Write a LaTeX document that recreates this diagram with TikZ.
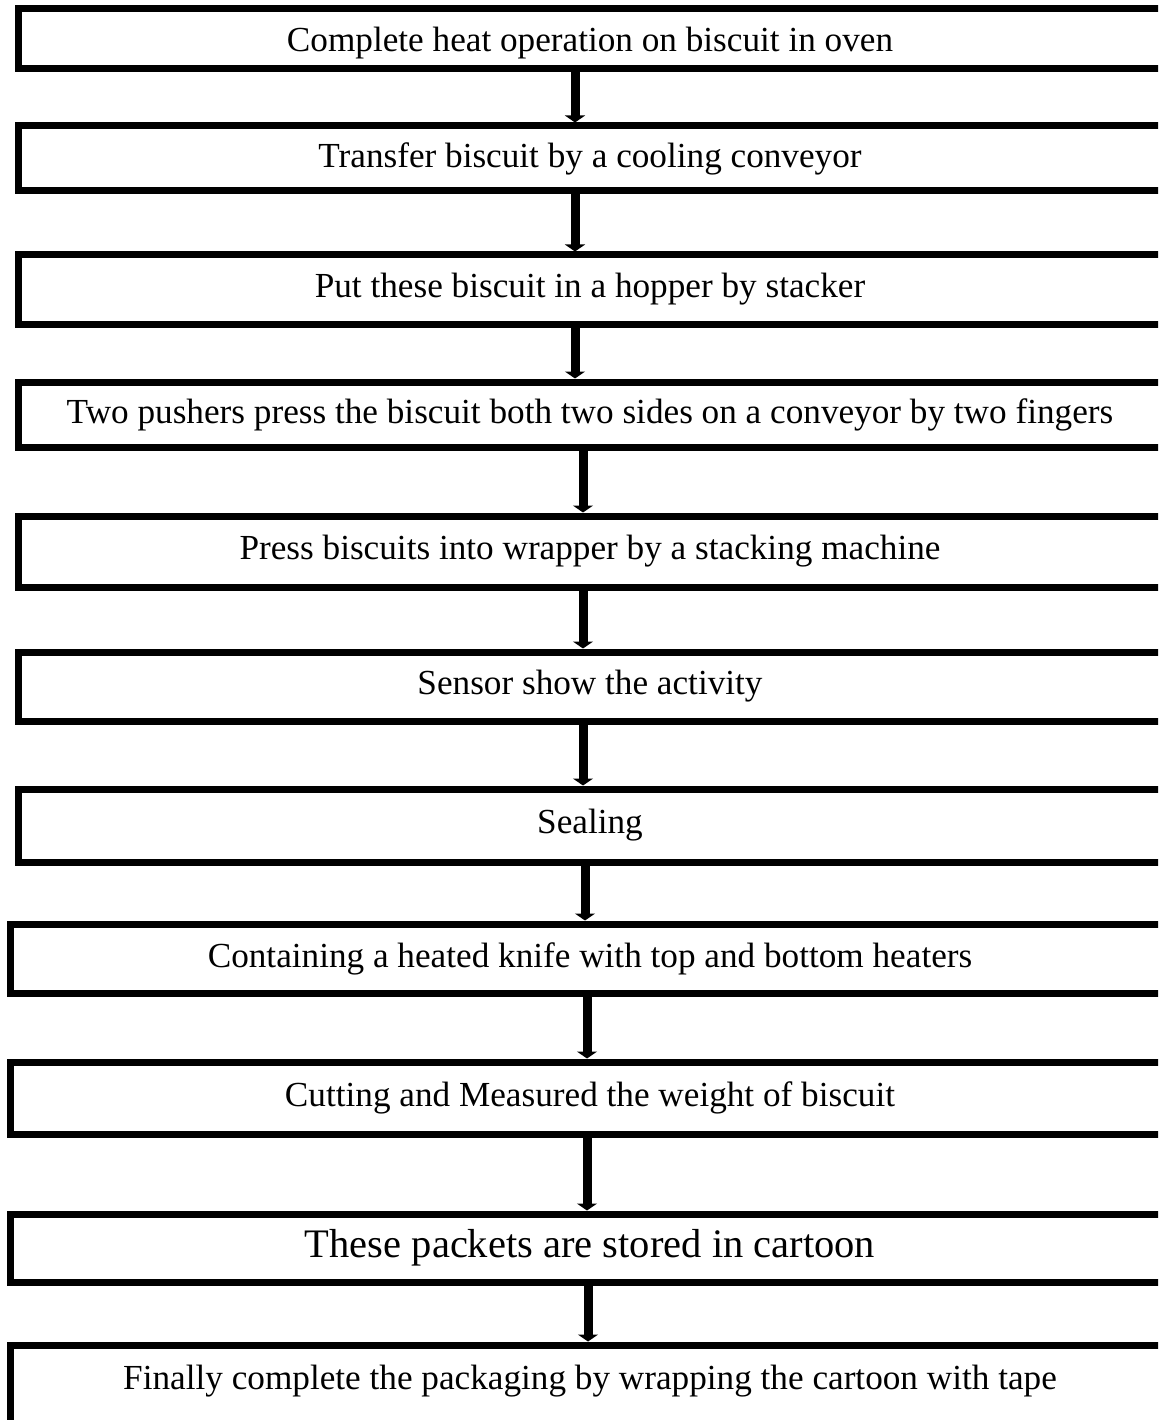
\documentclass[tikz,border=0pt]{standalone}
\usepackage{fontspec}
\setmainfont{Liberation Serif}
\usetikzlibrary{arrows.meta}

\tikzset{
  stepbox/.style={rectangle, draw, line width=7pt, inner sep=0pt, font=\fontsize{35.2}{40}\selectfont},
  upbox/.style={stepbox, minimum width=1144pt},
  lowbox/.style={stepbox, minimum width=1160pt},
  flow/.style={line width=9pt, -{Triangle[length=7pt,width=20pt]}}
}

\begin{document}
\begin{tikzpicture}[x=1pt,y=-1pt]
\useasboundingbox (0,0) rectangle (1158,1420);
\clip (0,0) rectangle (1158,1420);

\node[upbox, minimum height=60pt, text height=34pt, text depth=8pt] (0) at (590,39) {Complete heat operation on biscuit in oven};
\node[upbox, minimum height=65pt] (1) at (590,158.5) {Transfer biscuit by a cooling conveyor};
\node[upbox, minimum height=69pt] (2) at (590,289.5) {Put these biscuit in a hopper by stacker};
\node[upbox, minimum height=65pt] (3) at (590,414.5) {Two pushers press the biscuit both two sides on a conveyor by two fingers};
\node[upbox, minimum height=71pt] (4) at (590,551.5) {Press biscuits into wrapper by a stacking machine};
\node[upbox, minimum height=69pt] (5) at (590,686.5) {Sensor show the activity};
\node[upbox, minimum height=73pt] (6) at (590,825.5) {Sealing};
\node[lowbox, minimum height=69pt] (7) at (590,958.5) {Containing a heated knife with top and bottom heaters};
\node[lowbox, minimum height=72pt] (8) at (590,1098) {Cutting and Measured the weight of biscuit};
\node[lowbox, minimum height=68pt, font=\fontsize{40.5}{46}\selectfont] (9) at (590,1248) {These packets are stored in cartoon};
\node[lowbox, minimum height=95pt, text height=25pt, text depth=32pt] (10) at (590,1392.5) {Finally complete the packaging by wrapping the cartoon with tape};

\draw[flow] ([xshift=-15pt]0.south) -- ([xshift=-15pt]1.north);
\draw[flow] ([xshift=-15pt]1.south) -- ([xshift=-15pt]2.north);
\draw[flow] ([xshift=-15pt]2.south) -- ([xshift=-15pt]3.north);
\draw[flow] ([xshift=-7pt]3.south) -- ([xshift=-7pt]4.north);
\draw[flow] ([xshift=-7pt]4.south) -- ([xshift=-7pt]5.north);
\draw[flow] ([xshift=-7pt]5.south) -- ([xshift=-7pt]6.north);
\draw[flow] ([xshift=-5pt]6.south) -- ([xshift=-5pt]7.north);
\draw[flow] ([xshift=-3pt]7.south) -- ([xshift=-3pt]8.north);
\draw[flow] ([xshift=-3pt]8.south) -- ([xshift=-3pt]9.north);
\draw[flow] ([xshift=-2pt]9.south) -- ([xshift=-2pt]10.north);

\end{tikzpicture}
\end{document}
